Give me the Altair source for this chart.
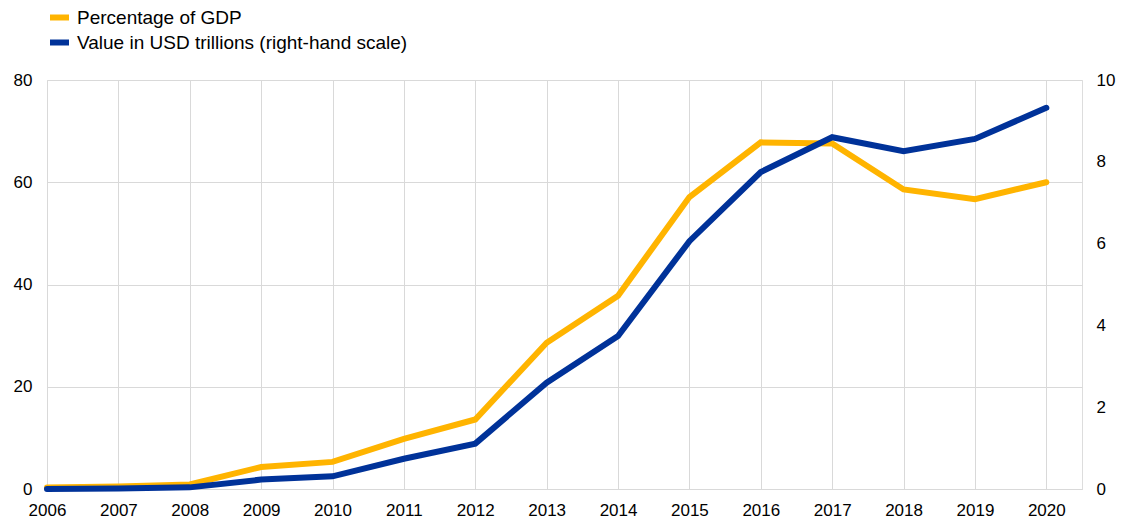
import altair as alt
import pandas as pd

years = list(range(2006, 2021))
pct_gdp = [0.3, 0.5, 0.9, 4.3, 5.3, 9.8, 13.6, 28.6, 37.8, 57.1, 67.8, 67.6, 58.6, 56.7, 60.0]
usd_trn = [0.0, 0.01, 0.04, 0.23, 0.31, 0.74, 1.11, 2.6, 3.74, 6.06, 7.75, 8.6, 8.26, 8.56, 9.32]
series = ["Percentage of GDP", "Value in USD trillions (right-hand scale)"]
colors = ["#FFB400", "#003299"]
left_ticks = [0, 20, 40, 60, 80]
right_ticks = [0, 2, 4, 6, 8, 10]

FONT = "Liberation Sans"
GRID = "#d9d9d9"

df = pd.DataFrame({"year": years, "pct": pct_gdp, "usd": usd_trn})

color = alt.Color(
    "series:N",
    scale=alt.Scale(domain=series, range=colors),
    legend=alt.Legend(
        title=None,
        orient="none",
        legendX=0,
        legendY=-75,
        direction="vertical",
        symbolType="stroke",
        symbolSize=361,
        symbolStrokeWidth=6,
        labelFontSize=19,
        labelFont=FONT,
        labelColor="#000000",
        labelOffset=5,
        rowPadding=0,
        padding=0,
        labelLimit=600,
    ),
)

x = alt.X(
    "year:Q",
    scale=alt.Scale(domain=[2006, 2020.5], nice=False, zero=False),
    axis=alt.Axis(
        values=years,
        format="d",
        title=None,
        grid=True,
        gridColor=GRID,
        ticks=False,
        domainColor=GRID,
        labelFontSize=17,
        labelFont=FONT,
        labelColor="#000000",
        labelPadding=13,
        labelFlush=False,
        labelOverlap=False,
    ),
)

base = alt.Chart(df)

left = base.transform_calculate(series="'" + series[0] + "'").mark_line(
    strokeWidth=6, strokeCap="round"
).encode(
    x=x,
    y=alt.Y(
        "pct:Q",
        scale=alt.Scale(domain=[0, 80], nice=False),
        axis=alt.Axis(
            values=left_ticks,
            title=None,
            orient="left",
            grid=True,
            gridColor=GRID,
            ticks=False,
            domain=False,
            labelFontSize=17,
            labelFont=FONT,
            labelColor="#000000",
            labelPadding=15,
        ),
    ),
    color=color,
)

right = base.transform_calculate(series="'" + series[1] + "'").mark_line(
    strokeWidth=6, strokeCap="round"
).encode(
    x=x,
    y=alt.Y(
        "usd:Q",
        scale=alt.Scale(domain=[0, 10], nice=False),
        axis=alt.Axis(
            values=right_ticks,
            title=None,
            orient="right",
            grid=False,
            ticks=False,
            domain=False,
            labelFontSize=17,
            labelFont=FONT,
            labelColor="#000000",
            labelPadding=14,
        ),
    ),
    color=color,
)

chart = (
    alt.layer(left, right)
    .resolve_scale(y="independent")
    .properties(
        width=1035,
        height=409,
        autosize=alt.AutoSizeParams(type="none"),
        padding={"left": 39, "top": 72, "right": 35, "bottom": 31},
    )
    .configure_view(stroke=GRID)
    .configure(font=FONT)
)

chart.save("out.html", embed_options={"renderer": "svg", "actions": False})
